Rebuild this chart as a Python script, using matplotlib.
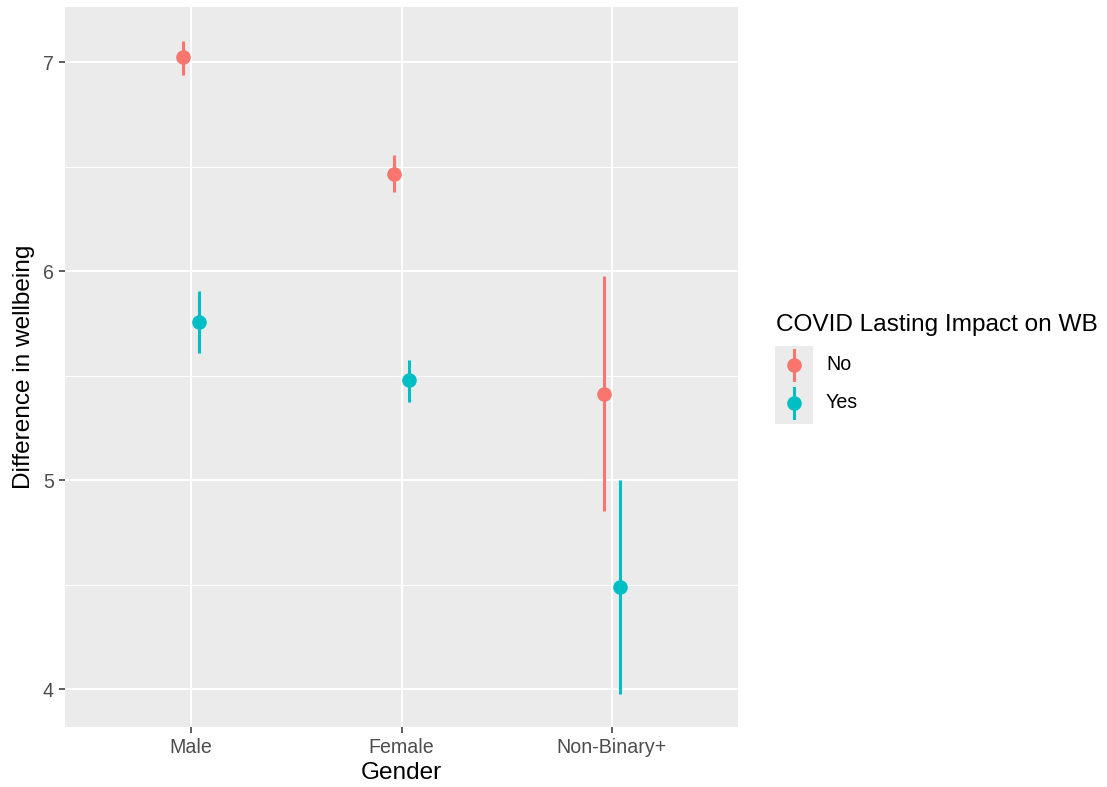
import numpy as np
import matplotlib
matplotlib.use("Agg")
import matplotlib.pyplot as plt
from matplotlib.lines import Line2D
from matplotlib.patches import Rectangle

plt.rcParams['font.family'] = ['Liberation Sans', 'DejaVu Sans']

# Mean difference in wellbeing with interval, by gender and lasting COVID impact
genders = ['Male', 'Female', 'Non-Binary+']
groups = ['No', 'Yes']
mean_no = [7.025, 6.466, 5.413]
low_no = [6.940, 6.378, 4.853]
high_no = [7.104, 6.554, 5.977]
mean_yes = [5.757, 5.477, 4.490]
low_yes = [5.607, 5.375, 3.977]
high_yes = [5.904, 5.573, 5.000]

colors = {'No': '#F8766D', 'Yes': '#00BFC4'}
dodge = {'No': -0.038, 'Yes': 0.038}
series = {
    'No': (mean_no, low_no, high_no),
    'Yes': (mean_yes, low_yes, high_yes),
}

fig = plt.figure(figsize=(11.07, 7.87), dpi=100)
ax = fig.add_axes([65 / 1107, 1 - 726.7 / 787, 673 / 1107, 719.4 / 787])
ax.set_facecolor('#EBEBEB')

x = np.arange(1, len(genders) + 1)
for g in groups:
    mean, lo, hi = series[g]
    xs = x + dodge[g]
    ax.vlines(xs, lo, hi, color=colors[g], lw=2.2, zorder=3)
    ax.plot(xs, mean, 'o', color=colors[g], ms=10.5, mec='none', zorder=4)

ax.set_xlim(0.4, 3.6)
ax.set_ylim(3.82, 7.263)
ax.set_xticks(x)
ax.set_xticklabels(genders)
ax.set_yticks([4, 5, 6, 7])
ax.set_yticks([4.5, 5.5, 6.5], minor=True)
ax.grid(which='major', color='white', lw=1.5)
ax.grid(which='minor', axis='y', color='white', lw=0.75)
ax.set_axisbelow(True)
for s in ax.spines.values():
    s.set_visible(False)
ax.tick_params(which='major', length=4, width=1.1, color='#333333',
               labelcolor='#4D4D4D', labelsize=14.1, pad=4)
ax.tick_params(which='minor', length=0)

ax.set_xlabel('Gender', fontsize=17.6, labelpad=4)
ax.set_ylabel('Difference in wellbeing', fontsize=17.6, labelpad=6)

# legend drawn in figure pixels
W, H = 1107, 787
fig.text(776 / W, 1 - 325 / H, 'COVID Lasting Impact on WB', fontsize=17.6,
         va='center', ha='left')
fig.patches.append(Rectangle((775 / W, 1 - 424 / H), 38 / W, 78 / H,
                             transform=fig.transFigure, facecolor='#EBEBEB',
                             edgecolor='none'))
for g, yc in zip(groups, [365, 403]):
    fig.lines.append(Line2D([794 / W, 794 / W], [1 - (yc - 15) / H, 1 - (yc + 15) / H],
                            transform=fig.transFigure, color=colors[g], lw=2.2))
    fig.lines.append(Line2D([794 / W], [1 - yc / H], transform=fig.transFigure,
                            marker='o', ms=10.5, mec='none', color=colors[g]))
    fig.text(826 / W, 1 - yc / H, g, fontsize=14.1, va='center', ha='left')

fig.savefig('out.png', dpi=100)
